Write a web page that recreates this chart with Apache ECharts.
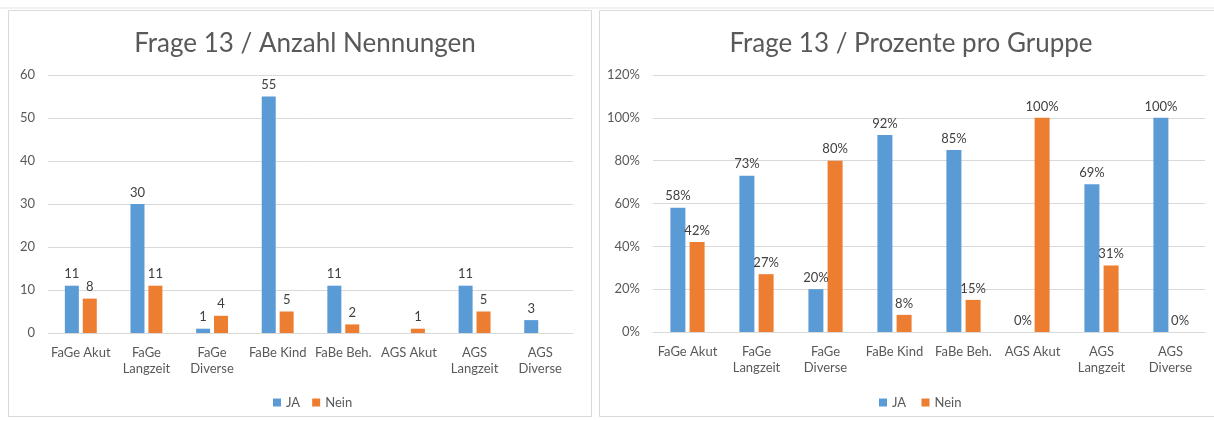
<!DOCTYPE html>
<html>
<head>
<meta charset="utf-8">
<script src="https://cdn.jsdelivr.net/npm/echarts@6/dist/echarts.min.js"></script>
<style>
  html, body { margin: 0; padding: 0; background: #fff; }
  #chart { width: 1214px; height: 421px; }
</style>
</head>
<body>
<div id="chart"></div>
<script>
// Daten
const categories = ["FaGe Akut", "FaGe\nLangzeit", "FaGe\nDiverse", "FaBe Kind", "FaBe Beh.", "AGS Akut", "AGS\nLangzeit", "AGS\nDiverse"];
const anzahlJa = [11, 30, 1, 55, 11, null, 11, 3];
const anzahlNein = [8, 11, 4, 5, 2, 1, 5, null];
const prozentJa = [0.58, 0.73, 0.20, 0.92, 0.85, 0, 0.69, 1.00];
const prozentNein = [0.42, 0.27, 0.80, 0.08, 0.15, 1.00, 0.31, 0];

const FONT = "Lato";
const TXT = "#595959";
const BLUE = "#5B9BD5";
const ORANGE = "#ED7D31";

function pct(v) { return Math.round(v * 100) + "%"; }

function barSeries(name, data, color, xi, w, fmt) {
  return {
    type: "bar",
    name: name,
    xAxisIndex: xi,
    yAxisIndex: xi,
    data: data,
    barWidth: w,
    barGap: "28%",
    itemStyle: { color: color },
    label: {
      show: true,
      position: "top",
      distance: 5,
      color: "#404040",
      fontFamily: FONT,
      fontSize: 13,
      formatter: fmt
    }
  };
}

const catAxis = (gi) => ({
  type: "category",
  gridIndex: gi,
  data: categories,
  axisTick: { show: false },
  axisLine: { lineStyle: { color: "#d9d9d9" } },
  axisLabel: { color: TXT, fontFamily: FONT, fontSize: 13, margin: 12, lineHeight: 16, interval: 0 }
});

const chart = echarts.init(document.getElementById("chart"));
chart.setOption({
  backgroundColor: "#ffffff",
  animation: false,
  graphic: [
    { type: "line", shape: { x1: 0, y1: 8, x2: 1214, y2: 8 }, style: { stroke: "#e3e3e3", lineWidth: 1 } },
    { type: "rect", shape: { x: 8.5, y: 10.5, width: 583, height: 406 }, style: { fill: "#fff", stroke: "#d9d9d9", lineWidth: 1 }, z: -10 },
    { type: "rect", shape: { x: 599.5, y: 10.5, width: 620, height: 406 }, style: { fill: "#fff", stroke: "#d9d9d9", lineWidth: 1 }, z: -10 }
  ],
  title: [
    { text: "Frage 13 / Anzahl Nennungen", left: 300, top: 26, textAlign: "center",
      textStyle: { fontFamily: FONT, fontSize: 26, fontWeight: "normal", color: TXT } },
    { text: "Frage 13 / Prozente pro Gruppe", left: 906, top: 26, textAlign: "center",
      textStyle: { fontFamily: FONT, fontSize: 26, fontWeight: "normal", color: TXT } }
  ],
  legend: [
    { data: ["JA", "Nein"], left: 268, top: 391, itemWidth: 8, itemHeight: 8, itemGap: 12, icon: "rect",
      textStyle: { color: TXT, fontFamily: FONT, fontSize: 13 } },
    { data: ["JA ", "Nein "], left: 874, top: 391, itemWidth: 8, itemHeight: 8, itemGap: 12, icon: "rect",
      textStyle: { color: TXT, fontFamily: FONT, fontSize: 13 } }
  ],
  grid: [
    { left: 48, top: 75, width: 525, height: 258 },
    { left: 653, top: 75, width: 552, height: 257 }
  ],
  xAxis: [catAxis(0), catAxis(1)],
  yAxis: [
    { type: "value", gridIndex: 0, min: 0, max: 60, interval: 10,
      axisLine: { show: false }, axisTick: { show: false },
      splitLine: { lineStyle: { color: "#d9d9d9" } },
      axisLabel: { color: TXT, fontFamily: FONT, fontSize: 13, margin: 13 } },
    { type: "value", gridIndex: 1, min: 0, max: 1.2, interval: 0.2,
      axisLine: { show: false }, axisTick: { show: false },
      splitLine: { lineStyle: { color: "#d9d9d9" } },
      axisLabel: { color: TXT, fontFamily: FONT, fontSize: 13, margin: 13, formatter: pct } }
  ],
  series: [
    barSeries("JA", anzahlJa, BLUE, 0, 14, "{c}"),
    barSeries("Nein", anzahlNein, ORANGE, 0, 14, "{c}"),
    barSeries("JA ", prozentJa, BLUE, 1, 15, (p) => pct(p.value)),
    barSeries("Nein ", prozentNein, ORANGE, 1, 15, (p) => pct(p.value))
  ]
});
</script>
</body>
</html>
